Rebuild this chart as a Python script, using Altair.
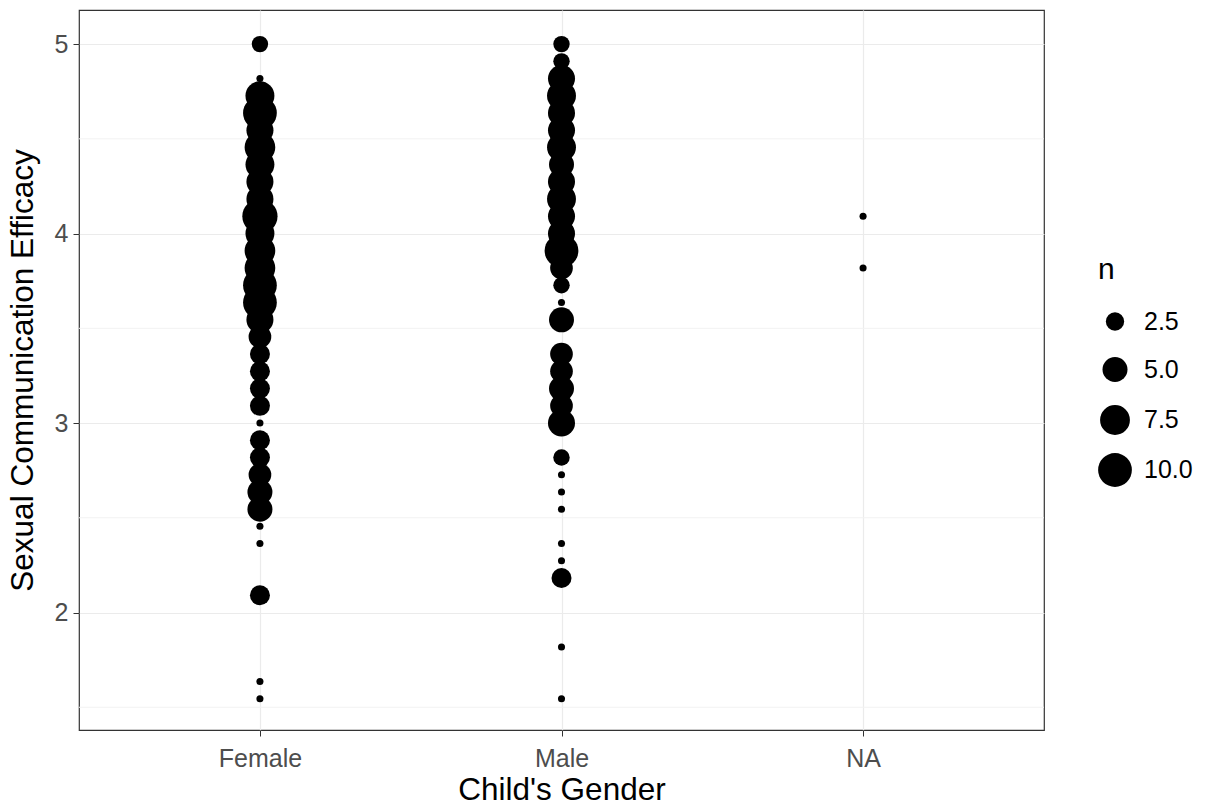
import altair as alt
import pandas as pd

# Sexual communication efficacy scores (y) and counts (n) per child's gender
female_y = [5.000, 4.818, 4.727, 4.636, 4.545, 4.455, 4.364, 4.273, 4.182, 4.091,
            4.000, 3.909, 3.818, 3.727, 3.636, 3.545, 3.455, 3.364, 3.273, 3.182,
            3.091, 3.000, 2.909, 2.818, 2.727, 2.636, 2.545, 2.455, 2.364, 2.091,
            1.636, 1.545]
female_n = [2, 1, 7, 10, 6, 8, 7, 6, 6, 11,
            7, 8, 8, 10, 10, 6, 4, 3, 3, 3,
            3, 1, 3, 3, 4, 5, 5, 1, 1, 3,
            1, 1]

male_y = [5.000, 4.909, 4.818, 4.727, 4.636, 4.545, 4.455, 4.364, 4.273, 4.182,
          4.091, 4.000, 3.909, 3.818, 3.727, 3.636, 3.545, 3.364, 3.273, 3.182,
          3.091, 3.000, 2.818, 2.727, 2.636, 2.545, 2.364, 2.273, 2.182, 1.818,
          1.545]
male_n = [2, 2, 6, 7, 6, 6, 7, 5, 6, 7,
          6, 6, 10, 4, 2, 1, 5, 4, 4, 5,
          4, 6, 2, 1, 1, 1, 1, 1, 3, 1,
          1]

na_y = [4.091, 3.818]
na_n = [1, 1]

categories = ["Female", "Male", "NA"]
minor_grid = [1.5, 2.5, 3.5, 4.5]
major_ticks = [2, 3, 4, 5]
legend_values = [2.5, 5.0, 7.5, 10.0]

rows = []
for g, ys, ns in [("Female", female_y, female_n), ("Male", male_y, male_n), ("NA", na_y, na_n)]:
    for y, n in zip(ys, ns):
        rows.append({"gender": g, "score": y, "n": n})
df = pd.DataFrame(rows)
minor_df = pd.DataFrame({"v": minor_grid})

FONT = "Liberation Sans"
ydom = [1.38, 5.18]

yscale = alt.Scale(domain=ydom, nice=False, zero=False)

minor = alt.Chart(minor_df).mark_rule(color="#F2F2F2", strokeWidth=1).encode(
    y=alt.Y("v:Q", scale=yscale)
)

points = alt.Chart(df).mark_circle(color="black", opacity=1).encode(
    x=alt.X("gender:N", sort=categories,
            scale=alt.Scale(type="point", domain=categories, padding=0.6),
            axis=alt.Axis(title="Child's Gender", labelAngle=0, grid=True,
                          gridColor="#EBEBEB", gridWidth=1.2,
                          labelFontSize=25, labelColor="#4D4D4D", labelFont=FONT,
                          titleFontSize=31.5, titleFont=FONT, titleFontWeight="normal",
                          titleColor="black", titlePadding=3,
                          tickColor="#333333", tickSize=6, domain=False, labelPadding=10)),
    y=alt.Y("score:Q", scale=yscale,
            axis=alt.Axis(title="Sexual Communication Efficacy", values=major_ticks,
                          format="d", grid=True, gridColor="#EBEBEB", gridWidth=1.2,
                          labelFontSize=25, labelColor="#4D4D4D", labelFont=FONT,
                          titleFontSize=31.5, titleFont=FONT, titleFontWeight="normal",
                          titleColor="black", titlePadding=15,
                          tickColor="#333333", tickSize=6, domain=False, labelPadding=5)),
    size=alt.Size("n:Q",
                  scale=alt.Scale(domain=[1, 2, 3, 4, 5, 7.5, 10, 11],
                                  range=[50, 270, 400, 515, 625, 890, 1140, 1240],
                                  zero=False, nice=False),
                  legend=alt.Legend(title="n", values=legend_values, format=".1f",
                                    orient="none", legendX=1019, legendY=245,
                                    titleFontSize=30, titleFont=FONT, titleFontWeight="normal",
                                    titleColor="black", titlePadding=24,
                                    labelFontSize=25, labelFont=FONT, labelColor="black",
                                    symbolFillColor="black", symbolStrokeWidth=0,
                                    symbolOpacity=1, gridAlign="all", rowPadding=14,
                                    labelOffset=12)),
)

chart = alt.layer(minor, points).properties(
    width=965, height=720,
    autosize=alt.AutoSizeParams(type="none"),
    padding={"left": 79, "top": 10, "right": 168, "bottom": 78},
    background="white",
).configure_view(
    stroke="#333333", strokeWidth=1.2
)

chart.save("out.html", embed_options={"renderer": "svg", "actions": False})
